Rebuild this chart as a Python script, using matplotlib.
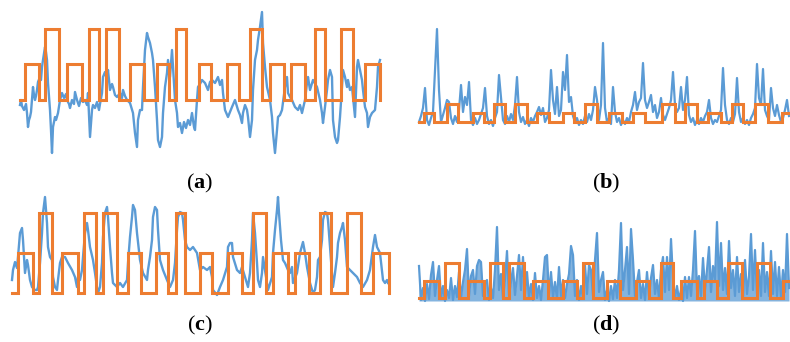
import numpy as np
import matplotlib
matplotlib.use("Agg")
import matplotlib.pyplot as plt

# ---------------- data ----------------
# panel (a): measured signal
a_time = [0, 1, 2, 4, 6, 7, 8, 9, 10, 11,
          13, 14, 15, 16, 17, 18, 20, 21, 22, 23,
          25, 26, 27, 28, 30, 31, 32, 33, 35, 36,
          38, 40, 42, 44, 46, 47, 49, 50, 52, 54,
          55, 57, 59, 61, 63, 65, 67, 68, 70, 72,
          73, 75, 77, 79, 80, 82, 83, 85, 87, 88,
          90, 92, 93, 95, 97, 100, 102, 103, 105, 107,
          110, 113, 115, 117, 118, 120, 122, 123, 125, 127,
          128, 130, 132, 133, 135, 137, 138, 140, 142, 143,
          145, 147, 148, 150, 152, 153, 155, 157, 158, 160,
          162, 164, 166, 168, 170, 172, 174, 175, 177, 178,
          180, 182, 185, 188, 190, 192, 195, 198, 200, 202,
          203, 205, 208, 210, 212, 215, 218, 220, 222, 223,
          225, 227, 228, 230, 232, 233, 235, 237, 238, 240,
          242, 243, 245, 247, 250, 252, 253, 255, 257, 258,
          260, 262, 265, 267, 268, 270, 272, 275, 278, 280,
          282, 285, 287, 288, 290, 293, 297, 300, 302, 303,
          305, 307, 308, 310, 312, 313, 315, 317, 318, 320,
          322, 323, 325, 327, 328, 330, 332, 333, 335, 337,
          338, 340, 342, 343, 345, 347, 348, 350, 352, 355,
          357, 358, 360]
a_signal = [55, 60, 54, 50, 56, 47, 33, 40, 43, 48,
            73, 65, 60, 64, 70, 78, 83, 80, 93, 100,
            113, 108, 100, 77, 50, 30, 7, 33, 43, 40,
            47, 60, 67, 62, 66, 60, 56, 52, 60, 56,
            68, 60, 54, 62, 58, 60, 55, 67, 23, 50,
            55, 52, 58, 50, 56, 67, 83, 88, 80, 90,
            70, 76, 73, 65, 63, 67, 62, 70, 64, 60,
            57, 47, 27, 13, 40, 50, 50, 73, 110, 127,
            123, 117, 107, 100, 73, 40, 20, 13, 23, 47,
            73, 87, 100, 83, 110, 93, 60, 47, 33, 37,
            27, 38, 32, 40, 35, 47, 33, 30, 60, 73,
            76, 80, 77, 70, 78, 80, 77, 83, 75, 80,
            67, 50, 43, 48, 53, 60, 50, 45, 37, 47,
            55, 50, 43, 23, 40, 70, 100, 110, 120, 133,
            148, 117, 93, 73, 60, 43, 27, 7, 30, 43,
            45, 50, 73, 83, 67, 63, 60, 53, 50, 55,
            47, 60, 77, 83, 70, 80, 73, 60, 47, 37,
            53, 70, 80, 90, 83, 40, 23, 17, 20, 43,
            73, 90, 83, 73, 80, 70, 73, 63, 43, 93,
            100, 90, 80, 70, 53, 47, 33, 43, 47, 50,
            73, 93, 100]
# panel (a): reference state sequence
a_ref_edges = [0, 5, 19, 25, 39, 47, 62, 69, 79, 86, 99, 110, 124, 137, 149, 156,
               166, 179, 191, 207, 219, 230, 242, 250, 264, 271, 285, 295, 305, 321,
               333, 345, 360]
a_ref_state = [0, 1, 0, 2, 0, 1, 0, 2, 0, 2, 0, 1, 0, 1, 0, 2,
               0, 1, 0, 1, 0, 2, 0, 1, 0, 1, 0, 2, 0, 2, 0, 1, 0]
a_ref_heights = [60, 96, 131]

# panel (b): measured signal, sampled every 2 time units
b_signal = [38, 44, 52, 72, 40, 35, 42, 48, 90, 131,
            70, 38, 45, 52, 60, 58, 42, 36, 44, 38,
            50, 75, 48, 63, 55, 78, 40, 35, 42, 36,
            40, 46, 52, 72, 44, 36, 40, 34, 42, 48,
            85, 62, 40, 36, 44, 38, 46, 40, 55, 83,
            48, 38, 43, 36, 40, 34, 42, 38, 44, 48,
            53, 45, 52, 38, 42, 50, 90, 60, 46, 73,
            44, 50, 88, 70, 105, 58, 63, 44, 38, 42,
            35, 40, 36, 44, 38, 46, 40, 50, 73, 60,
            40, 55, 117, 52, 38, 42, 36, 73, 48, 38,
            42, 35, 40, 36, 42, 38, 48, 55, 68, 50,
            58, 62, 97, 60, 52, 58, 65, 48, 55, 42,
            48, 62, 45, 40, 46, 52, 60, 88, 55, 48,
            52, 73, 50, 60, 83, 45, 38, 42, 35, 40,
            36, 42, 38, 44, 48, 60, 42, 36, 40, 38,
            44, 50, 92, 55, 40, 36, 42, 38, 46, 82,
            48, 38, 42, 36, 40, 35, 42, 46, 52, 96,
            62, 55, 91, 50, 44, 40, 72, 52, 44, 55,
            45, 38, 42, 50, 60, 44]
b_step = 2
b_ref_edges = [0, 5, 15, 28, 39, 54, 65, 75, 86, 96, 108, 118, 130, 144, 155, 166,
               178, 190, 203, 214, 226, 243, 256, 266, 278, 289, 302, 313, 324, 336,
               349, 363, 371]
b_ref_state = [0, 1, 0, 2, 0, 1, 0, 2, 0, 2, 0, 1, 0, 1, 0, 2,
               0, 1, 0, 1, 0, 2, 0, 2, 0, 1, 0, 2, 0, 2, 0, 1, 1]
b_ref_heights = [38, 47, 56]

# panel (c): measured signal
c_time = [0, 1, 3, 5, 6, 8, 10, 11, 13, 15,
          16, 18, 20, 21, 23, 25, 26, 28, 30, 31,
          33, 35, 36, 38, 40, 41, 43, 45, 46, 48,
          50, 53, 56, 60, 63, 65, 66, 68, 70, 71,
          73, 75, 76, 78, 81, 83, 85, 86, 88, 90,
          91, 93, 95, 96, 98, 100, 101, 105, 108, 111,
          115, 116, 118, 120, 121, 123, 125, 128, 131, 135,
          136, 138, 140, 141, 143, 145, 146, 148, 151, 155,
          158, 161, 163, 165, 166, 168, 170, 171, 173, 175,
          178, 181, 185, 188, 191, 195, 198, 200, 201, 205,
          208, 211, 215, 216, 218, 220, 221, 225, 228, 230,
          233, 236, 238, 240, 241, 243, 245, 246, 248, 250,
          251, 255, 256, 260, 261, 263, 265, 266, 267, 269,
          271, 273, 276, 278, 280, 281, 285, 288, 291, 293,
          295, 298, 301, 303, 305, 306, 308, 310, 311, 313,
          315, 316, 318, 320, 321, 323, 325, 326, 328, 330,
          331, 333, 335, 338, 341, 345, 348, 351, 355, 358,
          361, 363, 365, 368, 371, 373, 375, 376]
c_signal = [30, 40, 48, 42, 53, 77, 82, 70, 37, 50,
            45, 30, 23, 22, 20, 20, 23, 47, 77, 97,
            113, 87, 63, 53, 50, 33, 23, 20, 30, 47,
            53, 53, 47, 40, 33, 23, 33, 30, 40, 53,
            77, 87, 80, 63, 50, 37, 23, 17, 23, 47,
            73, 97, 103, 93, 63, 37, 27, 23, 27, 23,
            30, 47, 73, 93, 105, 100, 77, 50, 37, 30,
            40, 53, 70, 93, 103, 100, 80, 50, 40, 30,
            23, 30, 47, 80, 93, 98, 97, 90, 70, 63,
            60, 63, 57, 40, 43, 40, 43, 33, 20, 15,
            23, 30, 43, 63, 67, 67, 53, 40, 37, 43,
            33, 23, 37, 70, 97, 77, 47, 30, 23, 37,
            53, 27, 20, 33, 57, 80, 100, 113, 97, 70,
            50, 47, 40, 37, 43, 27, 37, 57, 68, 57,
            43, 27, 17, 20, 33, 50, 53, 70, 90, 98,
            97, 90, 63, 37, 23, 37, 53, 67, 77, 83,
            87, 70, 43, 40, 37, 33, 27, 23, 30, 40,
            63, 75, 63, 57, 30, 27, 30, 27]
c_ref_edges = [0, 6, 21, 27, 40, 50, 66, 72, 84, 91, 105, 116, 129, 144, 156, 164,
               173, 188, 200, 216, 230, 241, 254, 261, 276, 283, 297, 308, 319, 335,
               349, 361, 377]
c_ref_state = [0, 1, 0, 2, 0, 1, 0, 2, 0, 2, 0, 1, 0, 1, 0, 2,
               0, 1, 0, 1, 0, 2, 0, 1, 0, 1, 0, 2, 0, 2, 0, 1, 0]
c_ref_heights = [17, 57, 97]

# panel (d): measured signal, sampled every 2 time units
d_signal = [44, 10, 22, 9, 26, 11, 35, 48, 14, 30,
            44, 12, 24, 9, 20, 12, 32, 10, 24, 13,
            38, 12, 28, 40, 61, 14, 34, 40, 16, 44,
            50, 48, 14, 26, 30, 10, 22, 12, 40, 83,
            20, 36, 12, 30, 59, 14, 28, 42, 15, 34,
            55, 20, 53, 16, 38, 12, 26, 10, 37, 12,
            24, 10, 30, 53, 55, 14, 38, 12, 28, 11,
            43, 14, 30, 12, 26, 36, 64, 55, 14, 30,
            10, 24, 12, 45, 16, 45, 40, 14, 50, 77,
            18, 30, 38, 10, 20, 9, 24, 11, 30, 12,
            40, 87, 20, 40, 63, 16, 81, 50, 14, 28,
            40, 12, 26, 10, 38, 14, 32, 45, 16, 30,
            12, 40, 53, 18, 53, 20, 71, 30, 12, 24,
            10, 20, 9, 33, 12, 33, 14, 40, 79, 20,
            34, 14, 52, 20, 40, 63, 18, 44, 30, 88,
            24, 67, 20, 42, 16, 69, 22, 40, 14, 53,
            18, 36, 12, 50, 16, 34, 76, 20, 60, 16,
            40, 14, 67, 18, 38, 14, 59, 16, 48, 14,
            43, 12, 40, 18, 76, 22]
d_step = 2
d_ref_edges = [0, 5, 20, 26, 40, 49, 65, 71, 84, 90, 105, 114, 129, 144, 158, 164,
               174, 188, 201, 217, 230, 242, 254, 262, 278, 285, 298, 309, 323, 338,
               351, 364, 371]
d_ref_state = [0, 1, 0, 2, 0, 1, 0, 2, 0, 2, 0, 1, 0, 1, 0, 2,
               0, 1, 0, 1, 0, 2, 0, 1, 0, 1, 0, 2, 0, 2, 0, 1, 1]
d_ref_heights = [12, 29, 47]

panel_labels = ["a", "b", "c", "d"]

# ---------------- styling ----------------
BLUE = "#5B9BD5"
ORANGE = "#ED7D31"
plt.rcParams['mathtext.fontset'] = 'custom'
plt.rcParams['mathtext.rm'] = 'Liberation Serif'
plt.rcParams['mathtext.bf'] = 'Liberation Serif:bold'

W, H = 790, 342
fig = plt.figure(figsize=(W / 100, H / 100), dpi=100)


def add_ax(x0, y0, x1, y1):
    ax = fig.add_axes([x0 / W, 1 - y1 / H, (x1 - x0) / W, (y1 - y0) / H])
    ax.axis('off')
    return ax


def draw(ax, t, sig, edges, state, heights, lw_sig, dense=False):
    ax.plot(t, sig, color=BLUE, lw=lw_sig, solid_joinstyle='round', zorder=2)
    if dense:
        # very dense signal: shade the area it sweeps through
        ax.fill_between(t, sig, min(sig), color=BLUE, alpha=0.75, lw=0, zorder=1)
    levels = [heights[s] for s in state]
    ax.step(edges, levels, where='post', color=ORANGE, lw=2.2,
            solid_joinstyle='miter', zorder=3)


ax_a = add_ax(0, 0, 400, 165)
ax_a.set_xlim(-20, 380); ax_a.set_ylim(-5, 160)
draw(ax_a, a_time, a_signal, a_ref_edges, a_ref_state, a_ref_heights, 1.7)

ax_b = add_ax(400, 0, 790, 165)
ax_b.set_xlim(-19, 371); ax_b.set_ylim(-5, 160)
b_time = np.arange(len(b_signal)) * b_step
draw(ax_b, b_time, b_signal, b_ref_edges, b_ref_state, b_ref_heights, 1.6)

ax_c = add_ax(0, 170, 400, 342)
ax_c.set_xlim(-12, 388); ax_c.set_ylim(-32, 140)
draw(ax_c, c_time, c_signal, c_ref_edges, c_ref_state, c_ref_heights, 1.7)

ax_d = add_ax(400, 170, 790, 342)
ax_d.set_xlim(-19, 371); ax_d.set_ylim(-32, 140)
d_time = np.arange(len(d_signal)) * d_step
draw(ax_d, d_time, d_signal, d_ref_edges, d_ref_state, d_ref_heights, 1.6, dense=True)

label_pos = [(200, 183), (606, 183), (200, 325), (606, 325)]
for lab, (px, py) in zip(panel_labels, label_pos):
    fig.text(px / W, 1 - py / H, "(" + r"$\mathbf{" + lab + "}$" + ")",
             ha='center', va='center', fontsize=16, family='Liberation Serif',
             color='black')

fig.savefig("out.png", dpi=100)
